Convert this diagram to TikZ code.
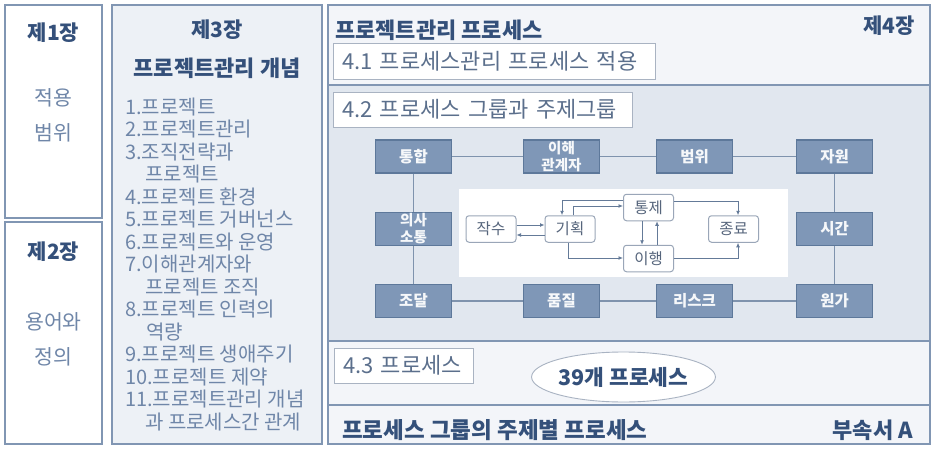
\documentclass[tikz,border=0pt]{standalone}
\usepackage{fontspec}
\setmainfont{Noto Sans CJK KR}
\usetikzlibrary{arrows.meta,shapes.geometric}
\definecolor{edgec}{HTML}{8196B3}
\definecolor{headc}{HTML}{34507A}
\definecolor{softc}{HTML}{6F86A8}
\definecolor{secc}{HTML}{A9B3C2}
\definecolor{sectext}{HTML}{5B6F8C}
\definecolor{gfill}{HTML}{7F97B7}
\definecolor{gdraw}{HTML}{5D789A}
\definecolor{glinec}{HTML}{7F93AD}
\definecolor{fborder}{HTML}{9AA6B8}
\definecolor{ftext}{HTML}{56657C}
\definecolor{arrc}{HTML}{647A98}
\definecolor{lightfill}{HTML}{F3F5F9}
\definecolor{midfill}{HTML}{E1E7EF}
\definecolor{colfill}{HTML}{EDF1F6}
\begin{document}
\begin{tikzpicture}[x=1pt,y=-1pt,
  bigbox/.style={draw=edgec, line width=1.4pt},
  head/.style={font=\bfseries\fontsize{22}{24}\selectfont, text=headc, inner sep=0},
  soft/.style={font=\fontsize{20.5}{24}\selectfont, text=softc, inner sep=0},
  item/.style={font=\fontsize{20}{22}\selectfont, text=softc, inner sep=0, anchor=west},
  secbox/.style={draw=secc, fill=white, line width=0.9pt, inner xsep=9pt, inner ysep=0pt, align=left,
    font=\fontsize{22}{24}\selectfont, text=sectext},
  gbox/.style={draw=gdraw, fill=gfill, line width=1.5pt, minimum width=76pt, minimum height=33pt,
    inner sep=0, text=white!93!gfill, font=\bfseries\fontsize{15.5}{17}\selectfont, align=center},
  fbox/.style={rounded corners=3pt, draw=fborder, fill=white, line width=1pt, minimum width=50pt,
    minimum height=26.5pt, inner sep=0, font=\fontsize{15.5}{17}\selectfont, text=ftext},
  arr/.style={draw=arrc, line width=0.9pt, -{Latex[length=4.5pt,width=4pt]}},
  gline/.style={draw=glinec, line width=1.6pt}
]
\useasboundingbox (0,0) rectangle (936,449);
\fill[white] (0,0) rectangle (936,449);

% chapter 1 and 2
\draw[bigbox, fill=white] (5,5) rectangle (102,218);
\draw[bigbox, fill=white] (5,222) rectangle (102,444);
\node[head, font=\bfseries\fontsize{21}{24}\selectfont] (c1) at (53.5,33) {제1장};
\node[soft] (c1a) at (53.5,98) {적용};
\node[soft] (c1b) at (53.5,133) {범위};
\node[head, font=\bfseries\fontsize{21}{24}\selectfont] (c2) at (53.5,252) {제2장};
\node[soft] (c2a) at (53.5,322) {용어와};
\node[soft] (c2b) at (53.5,357) {정의};

% chapter 3
\draw[bigbox, fill=colfill] (112,5) rectangle (322,444);
\node[head, font=\bfseries\fontsize{21}{24}\selectfont] (c3) at (217,30) {제3장};
\node[head] (c3t) at (217,68) {프로젝트관리 개념};
\node[item] (l1) at (125,107) {1.프로젝트};
\node[item] (l2) at (125,129.5) {2.프로젝트관리};
\node[item] (l3) at (125,152) {3.조직전략과};
\node[item] (l4) at (145,174.5) {프로젝트};
\node[item] (l5) at (125,197) {4.프로젝트 환경};
\node[item] (l6) at (125,219.5) {5.프로젝트 거버넌스};
\node[item] (l7) at (125,242) {6.프로젝트와 운영};
\node[item] (l8) at (125,264.5) {7.이해관계자와};
\node[item] (l9) at (145,287) {프로젝트 조직};
\node[item] (l10) at (125,309.5) {8.프로젝트 인력의};
\node[item] (l11) at (146,332) {역량};
\node[item] (l12) at (125,354.5) {9.프로젝트 생애주기};
\node[item] (l13) at (125,377) {10.프로젝트 제약};
\node[item] (l14) at (125,399.5) {11.프로젝트관리 개념};
\node[item] (l15) at (145,422) {과 프로세스간 관계};

% chapter 4 regions
\fill[lightfill] (328,5) rectangle (930,85);
\fill[midfill] (328,85) rectangle (930,341);
\fill[lightfill] (328,341) rectangle (930,444);
\draw[edgec, line width=1.2pt] (328,85) -- (930,85);
\draw[edgec, line width=1.2pt] (328,341) -- (930,341);
\draw[edgec, line width=1.2pt] (328,405) -- (930,405);
\draw[bigbox] (328,5) rectangle (930,444);

\node[head, anchor=west] (t4) at (335,30) {프로젝트관리 프로세스};
\node[head, anchor=east, font=\bfseries\fontsize{21}{24}\selectfont] (c4) at (915,26) {제4장};
\node[secbox, minimum width=322pt, minimum height=36pt, text width=304pt] (s41) at (494,61) {4.1 프로세스관리 프로세스 적용};
\node[secbox, minimum width=299pt, minimum height=35pt, text width=281pt] (s42) at (482.5,109.5) {4.2 프로세스 그룹과 주제그룹};
\node[secbox, minimum width=139pt, minimum height=35pt, text width=121pt] (s43) at (403.5,365.5) {4.3 프로세스};
\node[ellipse, draw=secc, fill=white, line width=0.9pt, minimum width=183pt, minimum height=50pt, inner sep=0,
  font=\bfseries\fontsize{21.5}{24}\selectfont, text=headc] (e39) at (623.5,377) {39개 프로세스};
\node[head, anchor=west, font=\bfseries\fontsize{22.5}{24}\selectfont] (foot) at (342,430) {프로세스 그룹의 주제별 프로세스};
\node[head, anchor=east] (annex) at (913,430) {부속서 A};

% knowledge areas grid
\node[gbox] (g1) at (413.5,156.5) {통합};
\node[gbox, font=\bfseries\fontsize{14.5}{17}\selectfont] (g2) at (561.5,156.5) {이해\\관계자};
\node[gbox] (g3) at (694.5,156.5) {범위};
\node[gbox] (g4) at (834.5,156.5) {자원};
\node[gbox, font=\bfseries\fontsize{14.5}{17}\selectfont] (g5) at (413.5,229) {의사\\소통};
\node[gbox] (g6) at (834.5,229) {시간};
\node[gbox] (g7) at (413.5,301) {조달};
\node[gbox] (g8) at (561.5,301) {품질};
\node[gbox] (g9) at (694.5,301) {리스크};
\node[gbox] (g10) at (834.5,301) {원가};
\draw[gline] (g1) -- (g2);
\draw[gline] (g2) -- (g3);
\draw[gline] (g3) -- (g4);
\draw[gline] (g1) -- (g5);
\draw[gline] (g5) -- (g7);
\draw[gline] (g4) -- (g6);
\draw[gline] (g6) -- (g10);
\draw[gline] (g7) -- (g8);
\draw[gline] (g8) -- (g9);
\draw[gline] (g9) -- (g10);

% process groups
\fill[white] (459,189) rectangle (788,277);
\node[fbox] (f1) at (491,229) {작수};
\node[fbox] (f2) at (570,229) {기획};
\node[fbox] (f3) at (648.5,207.5) {통제};
\node[fbox] (f4) at (648.5,258.5) {이행};
\node[fbox] (f5) at (733.5,229) {종료};
\draw[arr] (f1.east |- 0,225) -- (f2.west |- 0,225);
\draw[arr] (f2.west |- 0,235) -- (f1.east |- 0,235);
\draw[arr] (f3.west |- 0,200) -| (f2.north -| 562,0);
\draw[arr] (f2.north -| 573,0) |- (f3.west |- 0,206);
\draw[arr] (f2.south -| 568,0) |- (f4.west |- 0,258);
\draw[arr] (f3.south -| 642,0) -- (f4.north -| 642,0);
\draw[arr] (f4.north -| 657,0) -- (f3.south -| 657,0);
\draw[arr] (f3.east |- 0,201) -| (f5.north -| 738,0);
\draw[arr] (f4.east |- 0,258) -| (f5.south -| 738,0);
\end{tikzpicture}
\end{document}
